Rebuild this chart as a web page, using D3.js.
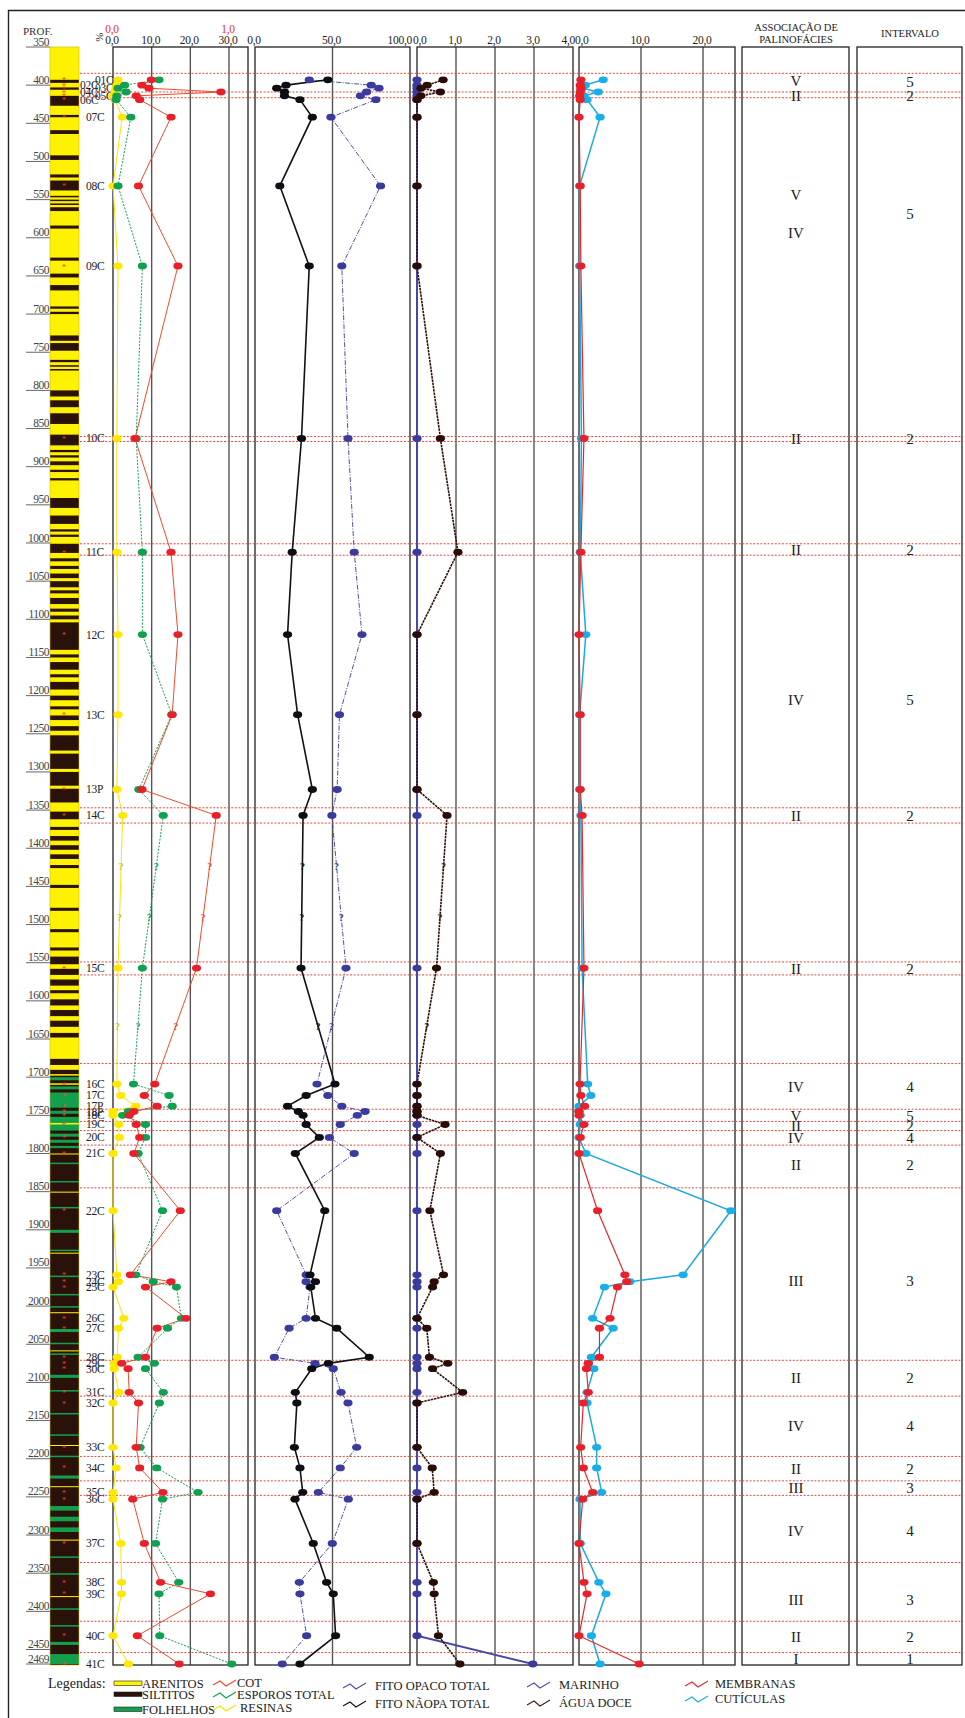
<!DOCTYPE html>
<html>
<head>
<meta charset="utf-8">
<script src="https://cdn.jsdelivr.net/npm/d3@7"></script>
<style>
  body { margin: 0; background: #fff; }
  svg { display: block; font-family: "Liberation Serif", "DejaVu Serif", serif; }
</style>
</head>
<body>
<div id="grafico"></div>
<script>
// ---------------------------------------------------------------- dados
const amostras = ["01C","02C","03C","04C","05C","06C","07C","08C","09C","10C","11C","12C","13C","13P","14C","15C",
  "16C","17C","17P","18P","18C","19C","20C","21C","22C","23C","24C","25C","26C","27C","28C","29C","30C",
  "31C","32C","33C","34C","35C","36C","37C","38C","39C","40C","41C"];
const profundidade = [393,400,404,409,414,419,442,532,637,863,1012,1120,1225,1323,1357,1557,
  1709,1724,1738,1745,1750,1762,1779,1800,1875,1959,1968,1975,2016,2029,2067,2075,2082,
  2113,2127,2185,2212,2244,2253,2311,2362,2377,2432,2469];

// painel 1 (%), COT (0-1)
const resinas = [1.3,1.0,0.8,0.5,0,0.5,2.4,0,1.3,1.0,1.0,1.3,1.3,1.0,2.5,1.3,
  1.0,2.0,5.9,0,0,1.5,1.6,0,0,1.0,1.4,0,2.8,1.4,1.1,0.3,0.3,1.5,0,0,0.8,0,0,2.0,2.2,2.2,0,4.0];
const esporos = [11.9,3.0,1.3,3.4,1.0,0.8,4.6,1.3,7.6,6.0,7.6,7.6,15.2,6.7,13.0,7.6,
  5.3,14.5,15.3,4.0,2.5,8.4,8.4,6.5,12.8,5.9,10.4,16.4,17.7,14.1,6.5,10.7,8.4,13.0,12.0,7.0,11.3,22.0,12.8,11.0,17.0,11.9,12.1,30.7];
const cot = [0.33,0.25,0.31,0.93,0.20,0.23,0.50,0.22,0.56,0.19,0.50,0.56,0.51,0.25,0.89,0.72,
  0.36,0.27,0.38,0.18,0.14,0.20,0.23,0.18,0.58,0.15,0.50,0.28,0.63,0.38,0.28,0.075,0.13,0.14,0.22,0.20,0.23,0.43,0.17,0.27,0.41,0.84,0.21,0.57];

// painel 2 (%)
const fitoOpaco = [35,75,80,72,68,78,49,81,56,60,64,69,54.5,53,49.6,58.7,
  40,47,56,71,66,55,48,64,14,33,33,35.5,33,22,12.5,38.7,50.5,55.5,60,65.6,55,40.9,60.2,49.9,28.6,29,33.3,17.6];
const fitoNaoOpaco = [47,20,14,19,19,29,37,16,35,30,24,21,27.5,37,31,29.7,
  51.6,33,21,28,31,33,41.5,26,45,35.5,39,36,39,52.7,73.7,47.3,36.6,26,27,25.4,29,30.8,25.8,37.6,46.2,50.5,52,29];

// painel 3
const marinho = [0,0,0,0,0,0,0,0,0,0,0,0,0,0,0,0,
  0,0,0,0,0,0,0,0,0,0,0,0,0,0,0,0,0,0,0,0,0,0,0,0,0,0,0,2.97];
const aguaDoce = [0.67,0.26,0.1,0.6,0.1,0,0,0,0,0.6,1.05,0,0,0,0.77,0.5,
  0,0,0,0,0,0.72,0,0.6,0.33,0.68,0.44,0.4,0,0.25,0.32,0.79,0.4,1.17,0,0,0.39,0.44,0,0,0.42,0.44,0.55,1.1];

// painel 4
const membranas = [0.3,0.2,0.3,0.2,0.1,0.2,0,0.2,0.3,0.8,0.3,0,0.2,0.2,0.5,0.8,
  0.16,0.3,0.9,0,0,0.8,0.2,0,3.0,7.4,7.7,6.2,5.0,3.3,3.3,1.5,1.2,1.5,0.7,0.27,0.7,2.2,0.6,0,0.8,1.3,0,9.7];
const cuticulas = [3.9,1.0,0.5,3.1,0.8,1.3,3.4,0.1,0.1,0.4,0.2,1.1,0.1,0.1,0.3,0.5,
  1.4,1.9,0,0,0.2,0.2,0,1.1,24.5,16.8,8.2,4.1,2.2,5.5,2.0,1.5,2.4,1.3,1.3,2.85,2.85,3.65,0.16,0.2,3.2,4.35,2.0,3.4];

// limites dos intervalos (linhas tracejadas)
const limites = [384.5,409,416.5,860.5,867,1001,1016,1347,1367,1549,1566,1682,1742,1758,1770,1789,1845,
  2071,2118,2197,2229,2248,2336,2413,2454];

// associação de palinofácies e intervalo
const assocRotulo = ["V","II","V","IV","II","II","IV","II","II","IV","V","II","IV","II","III","II","IV","II","III","IV","III","II","I"];
const assocProf =   [394,414.5,544,594,863.5,1008.5,1206,1357,1557.5,1712,1750,1764,1779.5,1815,1967,2094.5,2157,2213,2238.5,2295,2385,2433.5,2461.5];
const intervRotulo = ["5","2","5","2","2","5","2","2","4","5","2","4","2","3","2","4","2","3","4","3","2","1"];
const intervProf =   [396,414,569,863.5,1008.5,1206,1357,1557.5,1712,1750,1764,1779.5,1815,1967,2094.5,2157,2213,2238.5,2295,2385,2433.5,2461.5];

// litologia (A arenito, S siltito, F folhelho)
const litoTopo = [350,393,403,414,439,459,492,517,525,545,550,555,560,584,626,647,662,690,697,728,738,760,767,772,800,813,830,858,878,885,893,904,915,941,964,982,989,1001,1020,
  1030,1040,1050,1062,1072,1086,1095,1104,1146,1156,1172,1182,1200,1214,1226,1240,1252,1276,1300,1322,1352,1372,1384,1396,1408,1422,1448,1478,1506,1530,1542,1558,1572,1586,1598,1612,1626,1642,1676,
  1700,1712,1720,1744,1752,1774,1782,1790,1812,1836,1870,1900,1926,1960,1984,2000,2030,2048,2062,2090,2110,2140,2168,2196,2222,2262,2276,2290,2328,2350,2396,2418,2440,2456,
  1696,1708,1760,1800,1850,1930,2008,2058,2182,2236,2306,2380];
const litoBase = [1690,397,406,427,442,464,498,521,538,547,552,557,565,588,630,652,669,693,700,735,748,763,769,774,808,822,844,872,881,888,898,907,918,954,975,985,992,1013,1024,
  1034,1046,1058,1066,1080,1090,1100,1140,1150,1166,1176,1192,1206,1218,1232,1246,1272,1296,1318,1340,1362,1376,1390,1402,1414,1426,1452,1482,1510,1534,1552,1566,1580,1590,1606,1620,1634,1648,1684,
  1704,1716,1740,1748,1770,1778,1786,1793,1814,1838,1872,1904,1928,1962,1986,2002,2034,2050,2064,2094,2112,2142,2170,2198,2226,2268,2282,2296,2330,2352,2398,2420,2444,2469,
  1698,1710,1762,1801,1851,1931,2009,2059,2183,2237,2307,2381];
const litoTipo = ["A"].concat(d3.range(77).map(() => "S"), d3.range(34).map(() => "F"), d3.range(12).map(() => "A"));

// ---------------------------------------------------------------- escalas
const y = d3.scaleLinear().domain([350, 2469]).range([47, 1664]);
const xP1 = d3.scaleLinear().domain([0, 30]).range([113, 229]);
const xCot = d3.scaleLinear().domain([0, 1]).range([113, 229]);
const xP2 = d3.scaleLinear().domain([0, 100]).range([255, 410]);
const xP3 = d3.scaleLinear().domain([0, 4]).range([417, 573]);
const xP4 = d3.scaleLinear().domain([0, 20]).range([579, 703]);

const virgula = (v) => d3.format(".1f")(v).replace(".", ",");
const topo = y(350), base = y(2469) + 1;

const svg = d3.select("#grafico").append("svg")
    .attr("width", 965)
    .attr("height", 1718);

// moldura externa
svg.append("path")
    .attr("d", "M8.5,1718 L8.5,10.5 L965,10.5")
    .attr("fill", "none")
    .attr("stroke", "#222")
    .attr("stroke-width", 1.4);

// ---------------------------------------------------------------- coluna de profundidade
svg.append("text").attr("x", 23).attr("y", 35).attr("font-size", 11).attr("fill", "#333").text("PROF.");

const ticksProf = d3.range(350, 2451, 50).concat([2469]);
const gProf = svg.append("g");
gProf.selectAll("line").data(ticksProf).enter().append("line")
    .attr("x1", 26).attr("x2", 50)
    .attr("y1", (d) => y(d)).attr("y2", (d) => y(d))
    .attr("stroke", "#666").attr("stroke-width", 1);
gProf.selectAll("text").data(ticksProf).enter().append("text")
    .attr("x", 49).attr("y", (d) => y(d) - 1.5)
    .attr("text-anchor", "end")
    .attr("font-size", 11.5)
    .attr("letter-spacing", -0.5)
    .attr("fill", "#444")
    .text((d) => d);

// litologia: fundo escuro (siltitos) na parte inferior, depois as camadas
const corLito = { A: "#fff200", S: "#2a1109", F: "#12a04c" };
svg.append("rect")
    .attr("x", 50).attr("width", 29)
    .attr("y", y(1690)).attr("height", y(2469) - y(1690) + 1)
    .attr("fill", corLito.S);
svg.append("g").selectAll("rect")
    .data(litoTipo.map((t, i) => ({ t, topo: litoTopo[i], base: litoBase[i] })))
    .enter().append("rect")
    .attr("x", 50).attr("width", 29)
    .attr("y", (d) => y(d.topo))
    .attr("height", (d) => Math.max(1, y(d.base) - y(d.topo)))
    .attr("fill", (d) => corLito[d.t]);
svg.append("rect").attr("x", 50).attr("y", topo).attr("width", 29).attr("height", base - topo)
    .attr("fill", "none").attr("stroke", "#c8b800").attr("stroke-width", 0.6);

// asteriscos das amostras
svg.append("g").selectAll("text").data(profundidade).enter().append("text")
    .attr("x", 64).attr("y", (d) => y(d) + 3.5)
    .attr("text-anchor", "middle").attr("font-size", 8).attr("fill", "#e4403a")
    .text("*");

// nomes das amostras
svg.append("g").selectAll("text").data(amostras).enter().append("text")
    .attr("x", (d, i) => (i < 6 ? (i % 2 === 0 ? 95 : 80) : 86))
    .attr("y", (d, i) => y(profundidade[i]) + 4)
    .attr("font-size", 11.5)
    .attr("letter-spacing", -0.3)
    .attr("fill", "#222")
    .text((d) => d);

// ---------------------------------------------------------------- painéis
const paineis = [
    { x0: 113, x1: 248, grade: [10, 20, 30].map(xP1) },
    { x0: 255, x1: 410, grade: [50].map(xP2) },
    { x0: 417, x1: 573, grade: [1, 2, 3].map(xP3) },
    { x0: 579, x1: 735, grade: [10, 20].map(xP4) },
    { x0: 742, x1: 849, grade: [] },
    { x0: 857, x1: 962, grade: [] },
];
paineis.forEach((p) => {
    svg.append("g").selectAll("line").data(p.grade).enter().append("line")
        .attr("x1", (d) => d).attr("x2", (d) => d)
        .attr("y1", topo).attr("y2", base)
        .attr("stroke", "#555").attr("stroke-width", 1.4);
    svg.append("rect")
        .attr("x", p.x0).attr("y", topo)
        .attr("width", p.x1 - p.x0).attr("height", base - topo)
        .attr("fill", "none").attr("stroke", "#222").attr("stroke-width", 1.3);
});

// rótulos dos eixos no topo
const eixos = [
    { escala: xP1, ticks: [0, 10, 20, 30], ancora: ["middle", "middle", "middle", "middle"], cor: "#222", yy: 44 },
    { escala: xCot, ticks: [0, 1], ancora: ["middle", "middle"], cor: "#e8302a", yy: 33 },
    { escala: xP2, ticks: [0, 50, 100], ancora: ["middle", "middle", "end"], cor: "#222", yy: 44 },
    { escala: xP3, ticks: [0, 1, 2, 3, 4], ancora: ["start", "middle", "middle", "middle", "end"], cor: "#222", yy: 44 },
    { escala: xP4, ticks: [0, 10, 20], ancora: ["start", "middle", "middle"], cor: "#222", yy: 44 },
];
eixos.forEach((e) => {
    svg.append("g").selectAll("text").data(e.ticks).enter().append("text")
        .attr("x", (d, i) => e.escala(d) + (e.ancora[i] === "end" ? 2 : e.ancora[i] === "start" ? -4 : -1))
        .attr("y", e.yy)
        .attr("text-anchor", (d, i) => e.ancora[i])
        .attr("font-size", 11.5)
        .attr("letter-spacing", -0.3)
        .attr("fill", e.cor)
        .text((d) => virgula(d));
});
svg.append("text")
    .attr("transform", "translate(96,37) rotate(90)")
    .attr("text-anchor", "middle")
    .attr("font-size", 11).attr("fill", "#222")
    .text("%");

// títulos das colunas da direita
svg.append("text").attr("x", 796).attr("y", 31).attr("text-anchor", "middle").attr("font-size", 10.5).attr("fill", "#222").text("ASSOCIAÇÃO DE");
svg.append("text").attr("x", 796).attr("y", 43).attr("text-anchor", "middle").attr("font-size", 10.5).attr("fill", "#222").text("PALINOFÁCIES");
svg.append("text").attr("x", 910).attr("y", 37).attr("text-anchor", "middle").attr("font-size", 10.5).attr("fill", "#222").text("INTERVALO");

// linhas tracejadas dos intervalos
svg.append("g").selectAll("line").data(limites).enter().append("line")
    .attr("x1", 80).attr("x2", 963)
    .attr("y1", (d) => y(d)).attr("y2", (d) => y(d))
    .attr("stroke", "#e4483c").attr("stroke-width", 1)
    .attr("stroke-dasharray", "2,1.6");

// rótulos de associação e intervalo
svg.append("g").selectAll("text").data(assocRotulo).enter().append("text")
    .attr("x", 796).attr("y", (d, i) => y(assocProf[i]))
    .attr("dy", "0.35em").attr("text-anchor", "middle")
    .attr("font-size", 15).attr("fill", "#222")
    .text((d) => d);
svg.append("g").selectAll("text").data(intervRotulo).enter().append("text")
    .attr("x", 910).attr("y", (d, i) => y(intervProf[i]))
    .attr("dy", "0.35em").attr("text-anchor", "middle")
    .attr("font-size", 15).attr("fill", "#222")
    .text((d) => d);

// ---------------------------------------------------------------- séries
const series = [
    { valores: resinas, x: xP1, linha: "#f8e600", ponto: "#ffe800", largura: 1, traco: null },
    { valores: esporos, x: xP1, linha: "#13a055", ponto: "#10a052", largura: 1, traco: "2,1.4" },
    { valores: cot, x: xCot, linha: "#ee4a2c", ponto: "#e8202a", largura: 1, traco: null },
    { valores: fitoOpaco, x: xP2, linha: "#3c3c98", ponto: "#3b3b9e", largura: 0.9, traco: "5,1.5,1,1.5" },
    { valores: fitoNaoOpaco, x: xP2, linha: "#111118", ponto: "#0d0d14", largura: 1.6, traco: null },
    { valores: marinho, x: xP3, linha: "#4848a8", ponto: "#3b3b9e", largura: 2, traco: null },
    { valores: aguaDoce, x: xP3, linha: "#2e120a", ponto: "#2a0c06", largura: 1.6, traco: "2.5,0.8" },
    { valores: cuticulas, x: xP4, linha: "#1ba9e1", ponto: "#18aee8", largura: 1.5, traco: null },
    { valores: membranas, x: xP4, linha: "#e8262a", ponto: "#e8202a", largura: 1.2, traco: null },
];

series.forEach((s) => {
    const linha = d3.line()
        .x((d) => s.x(d))
        .y((d, i) => y(profundidade[i]));
    svg.append("path")
        .datum(s.valores)
        .attr("d", linha)
        .attr("fill", "none")
        .attr("stroke", s.linha)
        .attr("stroke-width", s.largura)
        .attr("stroke-dasharray", s.traco);
});

series.forEach((s) => {
    svg.append("g").selectAll("ellipse").data(s.valores).enter().append("ellipse")
        .attr("cx", (d) => s.x(d))
        .attr("cy", (d, i) => y(profundidade[i]))
        .attr("rx", 4.6).attr("ry", 3.4)
        .attr("fill", s.ponto);
});

// trechos incertos (14C-16C) marcados com "?"
const i14 = amostras.indexOf("14C"), i15 = amostras.indexOf("15C"), i16 = amostras.indexOf("16C");
const incertos = [[i14, i15, 1 / 3], [i14, i15, 2 / 3], [i15, i16, 0.5]];
[0, 1, 2, 3, 4, 6].forEach((k) => {
    const s = series[k];
    svg.append("g").selectAll("text").data(incertos).enter().append("text")
        .attr("x", (d) => d3.interpolateNumber(s.x(s.valores[d[0]]), s.x(s.valores[d[1]]))(d[2]))
        .attr("y", (d) => d3.interpolateNumber(y(profundidade[d[0]]), y(profundidade[d[1]]))(d[2]))
        .attr("dy", "0.35em").attr("text-anchor", "middle")
        .attr("font-size", 10).attr("font-weight", "bold")
        .attr("fill", s.linha === "#f8e600" ? "#d8c400" : s.linha)
        .text("?");
});

// ---------------------------------------------------------------- legenda
const zigue = d3.line()([[0, 4], [7, 0], [13, 5], [23, -1]]);
svg.append("text").attr("x", 48).attr("y", 1688).attr("font-size", 14).attr("fill", "#222").text("Legendas:");

const legLito = [["ARENITOS", corLito.A, 1681], ["SILTITOS", corLito.S, 1692], ["FOLHELHOS", corLito.F, 1707]];
legLito.forEach((l) => {
    svg.append("rect").attr("x", 114).attr("y", l[2]).attr("width", 28).attr("height", 4.5)
        .attr("fill", l[1]).attr("stroke", "#222").attr("stroke-width", 0.6);
    svg.append("text").attr("x", 142).attr("y", l[2] + 6.5).attr("font-size", 12.5).attr("fill", "#222").text(l[0]);
});

const legSeries = [
    ["COT", "#ee4a2c", 213, 1681, 237],
    ["ESPOROS TOTAL", "#13a055", 213, 1693, 237],
    ["RESINAS", "#f8e600", 213, 1706, 240],
    ["FITO OPACO TOTAL", "#5050a8", 343, 1684, 375],
    ["FITO NÃOPA TOTAL", "#111118", 343, 1702, 375],
    ["MARINHO", "#5050a8", 527, 1683, 559],
    ["ÁGUA DOCE", "#3a2418", 527, 1701, 559],
    ["MEMBRANAS", "#e8262a", 685, 1682, 715],
    ["CUTÍCULAS", "#1ba9e1", 685, 1697, 715],
];
legSeries.forEach((l) => {
    svg.append("path")
        .attr("d", zigue)
        .attr("transform", `translate(${l[2]},${l[3]})`)
        .attr("fill", "none").attr("stroke", l[1]).attr("stroke-width", 1.1);
    svg.append("text").attr("x", l[4]).attr("y", l[3] + 6).attr("font-size", 12.5).attr("fill", "#222").text(l[0]);
});
</script>
</body>
</html>
